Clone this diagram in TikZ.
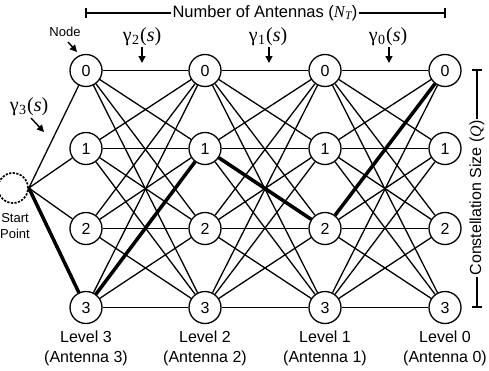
\documentclass[tikz,border=0pt]{standalone}
\usepackage{fontspec}
\setmainfont{Liberation Sans}
\newfontfamily\serifg{Liberation Serif}
\usetikzlibrary{arrows.meta}
\tikzset{
  st/.style={circle, draw, line width=1.3pt, minimum size=32pt, inner sep=0pt, font=\fontsize{16}{19}\selectfont},
  edge/.style={line width=1.3pt},
  best/.style={line width=3.5pt},
  lbl/.style={font=\fontsize{16}{20}\selectfont, align=center, inner sep=1pt},
  small/.style={font=\fontsize{13}{16}\selectfont, align=center, inner sep=1pt},
  gam/.style={font=\fontsize{20}{22}\serifg, inner sep=0pt},
  pointer/.style={-{Triangle[length=7pt,width=7pt]}, line width=1.4pt},
  dim/.style={line width=1.1pt},
}
\newcommand{\gm}[1]{γ\kern0.5pt\textsubscript{#1}\kern0.5pt(\textit{s})}
\begin{document}
\begin{tikzpicture}[x=1pt,y=-1pt]
\useasboundingbox (0,0) rectangle (489,370);
% trellis nodes
\foreach \c/\x in {3/86,2/205,1/325,0/445}
  \foreach \r/\y in {0/70.5,1/148.5,2/228.5,3/307.5}
    \node[st] (n\c\r) at (\x,\y) {\r};
% full connections between levels
\foreach \a/\b in {3/2,2/1,1/0}
  \foreach \i in {0,...,3}
    \foreach \j in {0,...,3}
      \draw[edge] (n\a\i) -- (n\b\j);
% start point
\node[circle, draw, dash pattern=on 2.2pt off 1.4pt, line width=1.7pt, minimum size=30pt, inner sep=0pt] (start) at (13,188) {};
\coordinate (sp) at (start.east);
\foreach \j in {0,...,3}
  \draw[edge] (sp) -- (n3\j);
% best path
\draw[best] (sp) -- (n33);
\draw[best] (n33) -- (n21);
\draw[best] (n21) -- (n12);
\draw[best] (n12) -- (n00);
% labels
\node[small] (startlbl) at (15,226) {Start\\Point};
\node[small] (nodelbl) at (65,32) {Node};
\coordinate (na1) at (68,42);
\coordinate (na2) at (77,52);
\draw[pointer] (na1) -- (na2);
\node[lbl] (l3) at (86,348) {Level 3\\(Antenna 3)};
\node[lbl] (l2) at (205,348) {Level 2\\(Antenna 2)};
\node[lbl] (l1) at (325,348) {Level 1\\(Antenna 1)};
\node[lbl] (l0) at (445,348) {Level 0\\(Antenna 0)};
% gamma labels
\node[gam] (g3) at (29,107) {\gm{3}};
\coordinate (g3a) at (31,118);
\coordinate (g3b) at (44,132);
\draw[pointer] (g3a) -- (g3b);
\node[gam] (g2) at (142,37) {\gm{2}};
\coordinate (g2a) at (142,47);
\coordinate (g2b) at (142,63);
\draw[pointer] (g2a) -- (g2b);
\node[gam] (g1) at (268,37) {\gm{1}};
\coordinate (g1a) at (269,47);
\coordinate (g1b) at (269,63);
\draw[pointer] (g1a) -- (g1b);
\node[gam] (g0) at (388,37) {\gm{0}};
\coordinate (g0a) at (389,47);
\coordinate (g0b) at (389,63);
\draw[pointer] (g0a) -- (g0b);
% number of antennas dimension
\node[lbl, font=\fontsize{16.5}{20}\selectfont] (nt) at (265,13) {Number of Antennas ({\serifg\itshape N\textsubscript{T}})};
\coordinate (ntl) at (86,13);
\coordinate (ntr) at (445,13);
\draw[dim] (nt.west) -- (ntl);
\draw[dim] (nt.east) -- (ntr);
\draw[dim] ([yshift=-5pt]ntl) -- ([yshift=5pt]ntl);
\draw[dim] ([yshift=-5pt]ntr) -- ([yshift=5pt]ntr);
% constellation size dimension
\node[lbl, rotate=90] (cs) at (477,198) {Constellation Size ({\serifg\itshape Q})};
\coordinate (cst) at (477,70);
\coordinate (csb) at (477,307);
\draw[dim] (cs.east) -- (cst);
\draw[dim] (cs.west) -- (csb);
\draw[dim] ([xshift=-5pt]cst) -- ([xshift=5pt]cst);
\draw[dim] ([xshift=-5pt]csb) -- ([xshift=5pt]csb);
\end{tikzpicture}
\end{document}
